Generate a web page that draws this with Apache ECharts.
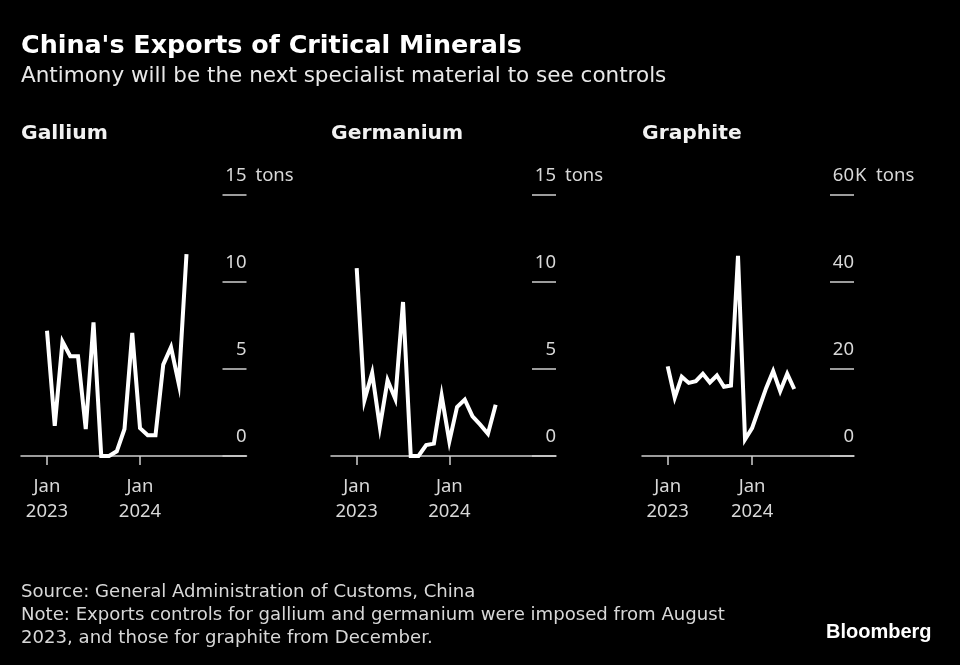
<!DOCTYPE html>
<html>
<head>
<meta charset="utf-8">
<style>html,body{margin:0;background:#000}#main{width:960px;height:665px}</style>
<script src="https://cdn.jsdelivr.net/npm/echarts@6/dist/echarts.min.js"></script>
</head>
<body>
<div id="main"></div>
<script>
// monthly exports, Jan 2023 - Jul 2024
var months = ['2023-01','2023-02','2023-03','2023-04','2023-05','2023-06','2023-07','2023-08','2023-09','2023-10','2023-11','2023-12','2024-01','2024-02','2024-03','2024-04','2024-05','2024-06','2024-07'];
var gallium = [7.2,1.74,6.57,5.73,5.73,1.55,7.68,0,0,0.27,1.55,7.07,1.6,1.19,1.19,5.25,6.25,4.16,11.6];
var germanium = [10.8,3.2,4.77,1.67,4.35,3.28,8.85,0,0,0.63,0.71,3.47,0.84,2.82,3.24,2.28,1.8,1.28,2.95];
var graphite = [20.6,13.4,18.2,16.8,17.2,18.9,16.9,18.5,15.9,16.2,46,3.8,6.4,11,15.6,19.5,14.9,18.9,15.4];
var panelNames = ['Gallium','Germanium','Graphite'];
var tonTicks = [0,5,10,15];
var graphiteTicks = [0,20,40,60];
var xTickIdx = [0,12];
var xTickLabels = ['Jan\n2023','Jan\n2024'];

var FONT = 'DejaVu Sans';
var AXIS_FONT = 'Noto Sans';
var TEXT = '#d8d8d8';
var RULE = '#d0d0d0';

// left, width, px of Jan 2023, px per month
var panels = [
	{left:21, width:225.5, jan:47, step:7.75, data:gallium, ticks:tonTicks, unit:'tons', unitPad:9},
	{left:331, width:225, jan:356.7, step:7.72, data:germanium, ticks:tonTicks, unit:'tons', unitPad:9},
	{left:642, width:212, jan:667.7, step:7.03, data:graphite, ticks:graphiteTicks, unit:'K  tons', unitPad:1}
];

var grids = [], xAxes = [], yAxes = [], series = [], titles = [];
panels.forEach(function (p, i) {
	grids.push({left:p.left, width:p.width, top:195, height:261});
	xAxes.push({
		type:'value', gridIndex:i,
		min:(p.left - p.jan) / p.step,
		max:(p.left + p.width - p.jan) / p.step,
		splitLine:{show:false},
		axisLine:{show:true, onZero:false, lineStyle:{color:RULE, width:1.5}},
		axisTick:{show:true, length:9, customValues:xTickIdx, lineStyle:{color:RULE, width:1.5}},
		axisLabel:{
			customValues:xTickIdx, margin:18, color:TEXT, fontFamily:AXIS_FONT, fontSize:18.5, lineHeight:25,
			formatter:function (v) { return xTickLabels[xTickIdx.indexOf(v)]; }
		}
	});
	var ymax = p.ticks[p.ticks.length - 1];
	yAxes.push({
		type:'value', gridIndex:i, position:'right', min:0, max:ymax, interval:ymax / 3,
		splitLine:{show:false},
		axisLine:{show:false, onZero:false},
		axisTick:{show:true, inside:true, length:24, lineStyle:{color:RULE, width:1.5}},
		axisLabel:{
			inside:true, margin:0, color:TEXT, fontFamily:AXIS_FONT, fontSize:18.5,
			verticalAlign:'bottom', padding:[0,0,10,0]
		},
		name:p.unit, nameLocation:'end', nameGap:10, nameMoveOverlap:false,
		nameTextStyle:{color:TEXT, fontFamily:AXIS_FONT, fontSize:18.5, align:'left', verticalAlign:'bottom', padding:[0,0,0,p.unitPad]}
	});
	series.push({
		type:'line', xAxisIndex:i, yAxisIndex:i, showSymbol:false, silent:true,
		lineStyle:{color:'#fff', width:4, join:'miter', cap:'butt'},
		data:p.data.map(function (v, k) { return [k, v]; })
	});
	titles.push({text:panelNames[i], left:p.left, top:124, padding:0, textStyle:{color:'#f2f2f2', fontFamily:FONT, fontSize:20.3, fontWeight:'bold'}});
});

titles.push(
	{text:"China's Exports of Critical Minerals", left:21, top:34, padding:0, textStyle:{color:'#fff', fontFamily:FONT, fontSize:25.4, fontWeight:'bold'}},
	{text:'Antimony will be the next specialist material to see controls', left:21, top:65, padding:0, textStyle:{color:'#e8e8e8', fontFamily:FONT, fontSize:21.5, fontWeight:'normal'}},
	{text:'Source: General Administration of Customs, China\nNote: Exports controls for gallium and germanium were imposed from August\n2023, and those for graphite from December.', left:21, top:581, padding:0, textStyle:{color:'#d8d8d8', fontFamily:FONT, fontSize:18.1, fontWeight:'normal', lineHeight:23}},
	{text:'Bloomberg', left:826, top:622, padding:0, textStyle:{color:'#fff', fontFamily:'Liberation Sans', fontSize:20, fontWeight:'bold'}}
);

var myChart = echarts.init(document.getElementById('main'), null, {renderer:'canvas'});
myChart.setOption({
	backgroundColor:'#000',
	animation:false,
	title:titles,
	grid:grids,
	xAxis:xAxes,
	yAxis:yAxes,
	series:series
});
</script>
</body>
</html>
